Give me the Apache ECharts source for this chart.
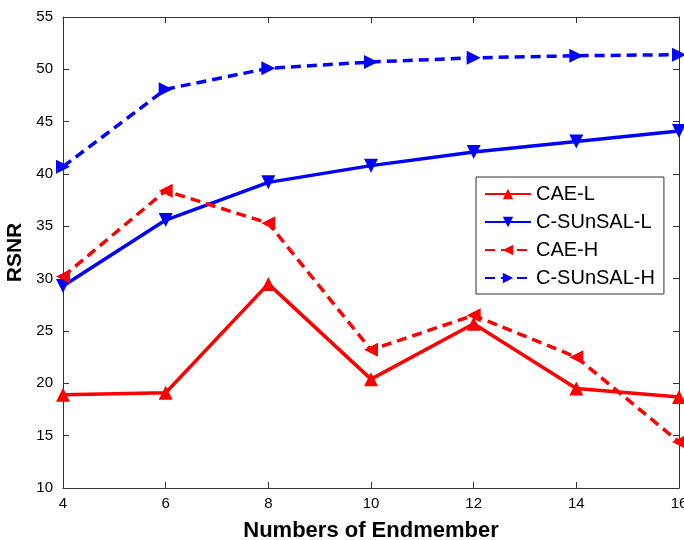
<!DOCTYPE html>
<html>
<head>
<meta charset="utf-8">
<script src="https://cdn.jsdelivr.net/npm/echarts@6/dist/echarts.min.js"></script>
<style>
html, body { margin: 0; padding: 0; background: #fff; }
#chart { width: 684px; height: 540px; }
</style>
</head>
<body>
<div id="chart"></div>
<script>
var endmembers = [4, 6, 8, 10, 12, 14, 16];
var caeL = [18.9, 19.1, 29.5, 20.4, 25.7, 19.5, 18.7];
var csunsalL = [29.3, 35.6, 39.2, 40.8, 42.1, 43.1, 44.1];
var caeH = [30.2, 38.4, 35.3, 23.2, 26.5, 22.5, 14.4];
var csunsalH = [40.7, 48.1, 50.1, 50.7, 51.1, 51.3, 51.4];

function pairs(vals) {
    var out = [];
    for (var i = 0; i < endmembers.length; i++) {
        out.push([endmembers[i], vals[i]]);
    }
    return out;
}

function makeSeries(name, vals, color, dashed, rotate) {
    return {
        name: name,
        type: 'line',
        xAxisIndex: 0,
        yAxisIndex: 0,
        data: pairs(vals),
        symbol: 'triangle',
        symbolSize: 14,
        symbolRotate: rotate,
        showAllSymbol: true,
        lineStyle: {color: color, width: 3.5, type: dashed ? [10, 6] : 'solid'},
        itemStyle: {color: color},
        emphasis: {disabled: true},
        animation: false
    };
}

var chart = echarts.init(document.getElementById('chart'));
var axisColor = '#333';
var font = 'Liberation Sans, Arial, sans-serif';
var option = {
    backgroundColor: '#fff',
    animation: false,
    textStyle: {fontFamily: font},
    grid: {left: 63, right: 5, top: 17, bottom: 52, containLabel: false, outerBoundsMode: 'none'},
    legend: {
        orient: 'vertical',
        left: 476,
        top: 177,
        padding: [7, 9, 6, 8],
        itemGap: 8,
        itemWidth: 46,
        itemHeight: 13,
        backgroundColor: '#fff',
        borderColor: '#333',
        borderWidth: 1,
        textStyle: {fontSize: 20, color: '#000', fontFamily: font},
        data: ['CAE-L', 'C-SUnSAL-L', 'CAE-H', 'C-SUnSAL-H']
    },
    xAxis: [{
        type: 'value',
        min: 4,
        max: 16,
        interval: 2,
        name: 'Numbers of Endmember',
        nameLocation: 'middle',
        nameGap: 32,
        nameTextStyle: {fontSize: 22, fontWeight: 'bold', color: '#000'},
        axisLine: {lineStyle: {color: axisColor, width: 1}},
        axisTick: {inside: true, length: 6, lineStyle: {color: axisColor}},
        axisLabel: {fontSize: 15, color: '#000', margin: 8},
        splitLine: {show: false}
    }, {
        type: 'value',
        position: 'top',
        min: 4,
        max: 16,
        interval: 2,
        axisLine: {show: true, onZero: false, lineStyle: {color: axisColor, width: 1}},
        axisTick: {inside: true, length: 6, lineStyle: {color: axisColor}},
        axisLabel: {show: false},
        splitLine: {show: false}
    }],
    yAxis: [{
        type: 'value',
        min: 10,
        max: 55,
        interval: 5,
        name: 'RSNR',
        nameLocation: 'middle',
        nameGap: 37,
        nameRotate: 90,
        nameTextStyle: {fontSize: 21, fontWeight: 'bold', color: '#000'},
        axisLine: {show: true, lineStyle: {color: axisColor, width: 1}},
        axisTick: {show: true, inside: true, length: 6, lineStyle: {color: axisColor}},
        axisLabel: {fontSize: 15, color: '#000', margin: 10},
        splitLine: {show: false}
    }, {
        type: 'value',
        position: 'right',
        min: 10,
        max: 55,
        interval: 5,
        axisLine: {show: true, onZero: false, lineStyle: {color: axisColor, width: 1}},
        axisTick: {show: true, inside: true, length: 6, lineStyle: {color: axisColor}},
        axisLabel: {show: false},
        splitLine: {show: false}
    }],
    series: [
        makeSeries('CAE-L', caeL, '#ff0000', false, 0),
        makeSeries('C-SUnSAL-L', csunsalL, '#0000ff', false, 180),
        makeSeries('CAE-H', caeH, '#ff0000', true, 90),
        makeSeries('C-SUnSAL-H', csunsalH, '#0000ff', true, -90)
    ]
};
chart.setOption(option);
</script>
</body>
</html>
